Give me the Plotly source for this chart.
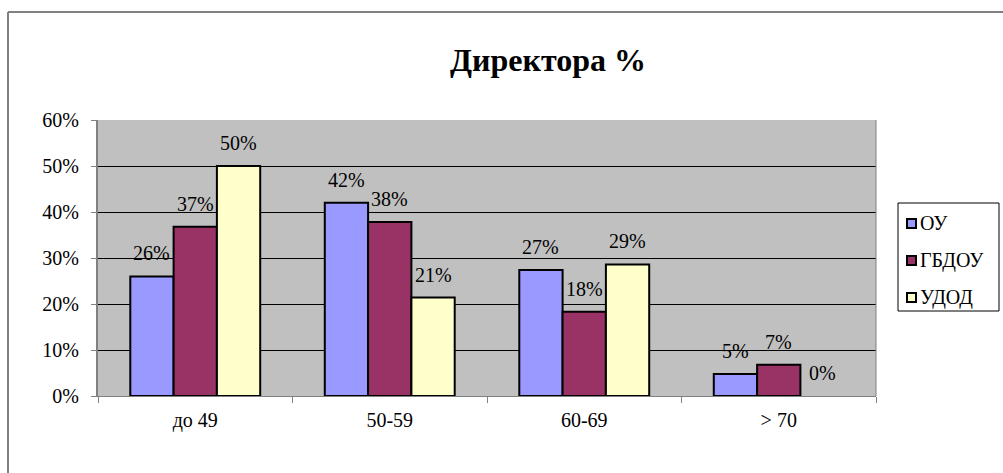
import plotly.graph_objects as go

categories = ["до 49", "50-59", "60-69", "> 70"]
series_names = ["ОУ", "ГБДОУ", "УДОД"]
ou = [0.26, 0.42, 0.274, 0.048]
gbdou = [0.368, 0.378, 0.183, 0.068]
udod = [0.50, 0.214, 0.286, 0.0]
colors = ["#9999FF", "#993366", "#FFFFCC"]
y_ticks = [0, 0.1, 0.2, 0.3, 0.4, 0.5, 0.6]

FONT = "Liberation Serif"
W, H = 1003, 473
L, R, T, B = 98, 127, 120, 77
pw, ph = W - L - R, H - T - B
BARGAP = 0.332


def px_x(p):
    return (p - L) / pw


def px_y(p):
    return (H - B - p) / ph


all_series = [ou, gbdou, udod]
fig = go.Figure()
for i, (name, vals) in enumerate(zip(series_names, all_series)):
    fig.add_trace(go.Bar(
        x=categories, y=vals, name=name,
        marker=dict(color=colors[i],
                    line=dict(color="black", width=[2 if v > 0 else 0 for v in vals])),
        cliponaxis=False, showlegend=False,
    ))

# data labels placed above each bar (Excel-style spacing)
bar_px = pw / len(categories) * (1 - BARGAP) / len(all_series)
for i, vals in enumerate(all_series):
    for c, v in zip(categories, vals):
        fig.add_annotation(x=c, y=v, xref="x", yref="y", text=f"{v:.0%}",
                           showarrow=False, xanchor="center", yanchor="middle",
                           xshift=(i - 1) * bar_px, yshift=23,
                           font=dict(family=FONT, size=20, color="black"))

fig.update_layout(
    width=W, height=H,
    margin=dict(l=L, r=R, t=T, b=B, autoexpand=False),
    paper_bgcolor="white", plot_bgcolor="#C0C0C0",
    barmode="group", bargap=BARGAP, bargroupgap=0,
    font=dict(family=FONT, size=20, color="black"),
    title=dict(text="<b>Директора %</b>", font=dict(family=FONT, size=32, color="black"),
               x=548 / W, xanchor="center", y=1 - 60 / H, yanchor="middle"),
    showlegend=False,
)
fig.update_xaxes(
    showline=True, linecolor="#808080", linewidth=1,
    ticks="outside", tickson="boundaries", ticklen=6, tickcolor="#808080",
    tickfont=dict(family=FONT, size=20), showgrid=False, ticklabelstandoff=6,
)
fig.update_yaxes(
    range=[0, 0.6], tickvals=y_ticks, tickformat=".0%",
    showline=True, linecolor="#808080", linewidth=2,
    ticks="outside", ticklen=5, tickcolor="#808080",
    tickfont=dict(family=FONT, size=20), ticklabelstandoff=8,
    showgrid=True, gridcolor="black", gridwidth=1, zeroline=False,
)
# outer chart-area border (top and left edges visible)
fig.add_shape(type="line", xref="paper", yref="paper",
              x0=px_x(8), x1=px_x(1010), y0=px_y(12), y1=px_y(12),
              line=dict(color="#808080", width=2))
fig.add_shape(type="line", xref="paper", yref="paper",
              x0=px_x(8), x1=px_x(8), y0=px_y(12), y1=px_y(480),
              line=dict(color="#808080", width=2))
# right edge of plot area
fig.add_shape(type="line", xref="paper", yref="paper", x0=1, x1=1, y0=0, y1=1,
              line=dict(color="#808080", width=1))

# legend box (Excel style)
fig.add_shape(type="rect", xref="paper", yref="paper",
              x0=px_x(898), x1=px_x(999), y0=px_y(203), y1=px_y(311),
              line=dict(color="black", width=1), fillcolor="white")
for i, name in enumerate(series_names):
    cy = 223 + 37 * i
    fig.add_shape(type="rect", xref="paper", yref="paper",
                  x0=px_x(907), x1=px_x(916), y0=px_y(cy - 4), y1=px_y(cy + 5),
                  line=dict(color="black", width=2), fillcolor=colors[i])
    fig.add_annotation(xref="paper", yref="paper", x=px_x(918), y=px_y(cy),
                       text=name, showarrow=False, xanchor="left", yanchor="middle",
                       font=dict(family=FONT, size=20, color="black"))

fig.write_html("out.html")
